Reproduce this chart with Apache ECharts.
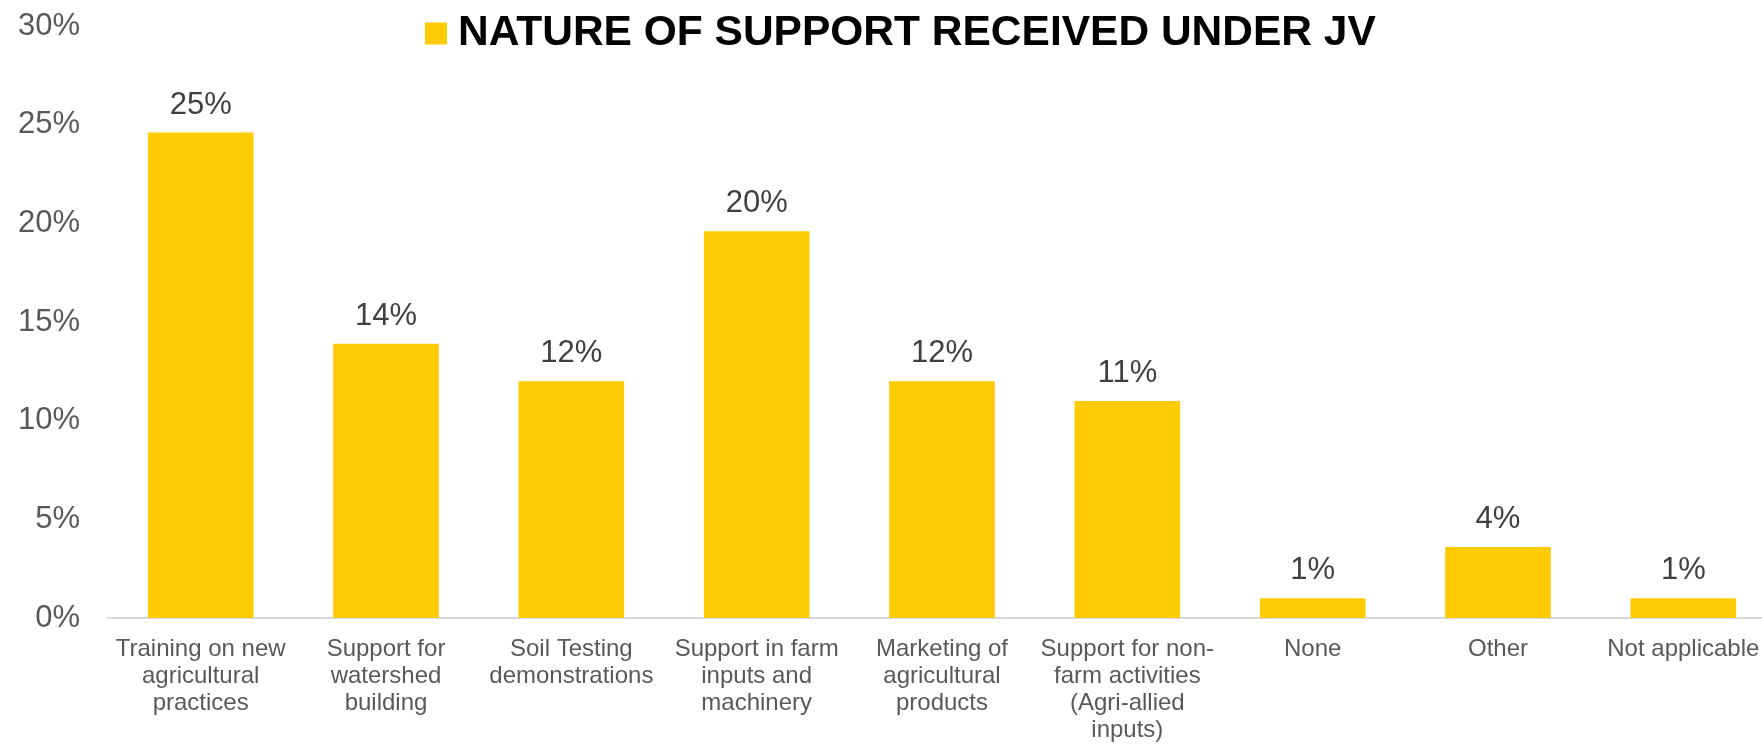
<!DOCTYPE html>
<html>
<head>
<meta charset="utf-8">
<title>Nature of support received under JV</title>
<script src="https://cdn.jsdelivr.net/npm/echarts@6/dist/echarts.min.js"></script>
<style>
  html, body { margin: 0; padding: 0; background: #ffffff; }
  #chart { width: 1762px; height: 744px; }
</style>
</head>
<body>
<div id="chart"></div>
<script>
// Survey categories (line breaks follow the printed wrapping)
const categories = [
  'Training on new\nagricultural\npractices',
  'Support for\nwatershed\nbuilding',
  'Soil Testing\ndemonstrations',
  'Support in farm\ninputs and\nmachinery',
  'Marketing of\nagricultural\nproducts',
  'Support for non-\nfarm activities\n(Agri-allied\ninputs)',
  'None',
  'Other',
  'Not applicable'
];

// Share of respondents, in percent
const shares = [24.6, 13.9, 12.0, 19.6, 12.0, 11.0, 1.0, 3.6, 1.0];

const seriesName = 'NATURE OF SUPPORT RECEIVED UNDER JV';

// Value axis ticks
const yMin = 0;
const yMax = 30;
const yStep = 5;

const FONT = "'Liberation Sans', Arial, sans-serif";
const GOLD = '#FFCB05';

const chart = echarts.init(document.getElementById('chart'), null, { renderer: 'canvas' });

chart.setOption({
  animation: false,
  backgroundColor: '#ffffff',
  textStyle: { fontFamily: FONT },
  legend: {
    data: [seriesName],
    left: 420,
    top: 7,
    icon: 'rect',
    itemWidth: 22,
    itemHeight: 22,
    selectedMode: false,
    textStyle: {
      fontFamily: FONT,
      fontSize: 42.5,
      fontWeight: 'bold',
      color: '#000000',
      padding: [0, 0, 0, 6]
    }
  },
  grid: {
    left: 108,
    right: -14,
    top: 26,
    bottom: 126,
    containLabel: false,
    outerBoundsMode: 'none'
  },
  xAxis: {
    type: 'category',
    data: categories,
    axisLine: { show: true, lineStyle: { color: '#d9d9d9', width: 2 } },
    axisTick: { show: false },
    splitLine: { show: false },
    axisLabel: {
      interval: 0,
      margin: 18,
      fontFamily: FONT,
      fontSize: 24,
      lineHeight: 27,
      color: '#595959',
      align: 'center'
    }
  },
  yAxis: {
    type: 'value',
    min: yMin,
    max: yMax,
    interval: yStep,
    axisLine: { show: false },
    axisTick: { show: false },
    splitLine: { show: false },
    axisLabel: {
      margin: 28,
      fontFamily: FONT,
      fontSize: 31,
      color: '#595959',
      formatter: '{value}%'
    }
  },
  series: [{
    name: seriesName,
    type: 'bar',
    data: shares,
    barWidth: '57%',
    itemStyle: { color: GOLD },
    label: {
      show: true,
      position: 'top',
      distance: 12,
      fontFamily: FONT,
      fontSize: 31,
      color: '#404040',
      formatter: p => Math.round(p.value) + '%'
    }
  }]
});
</script>
</body>
</html>
